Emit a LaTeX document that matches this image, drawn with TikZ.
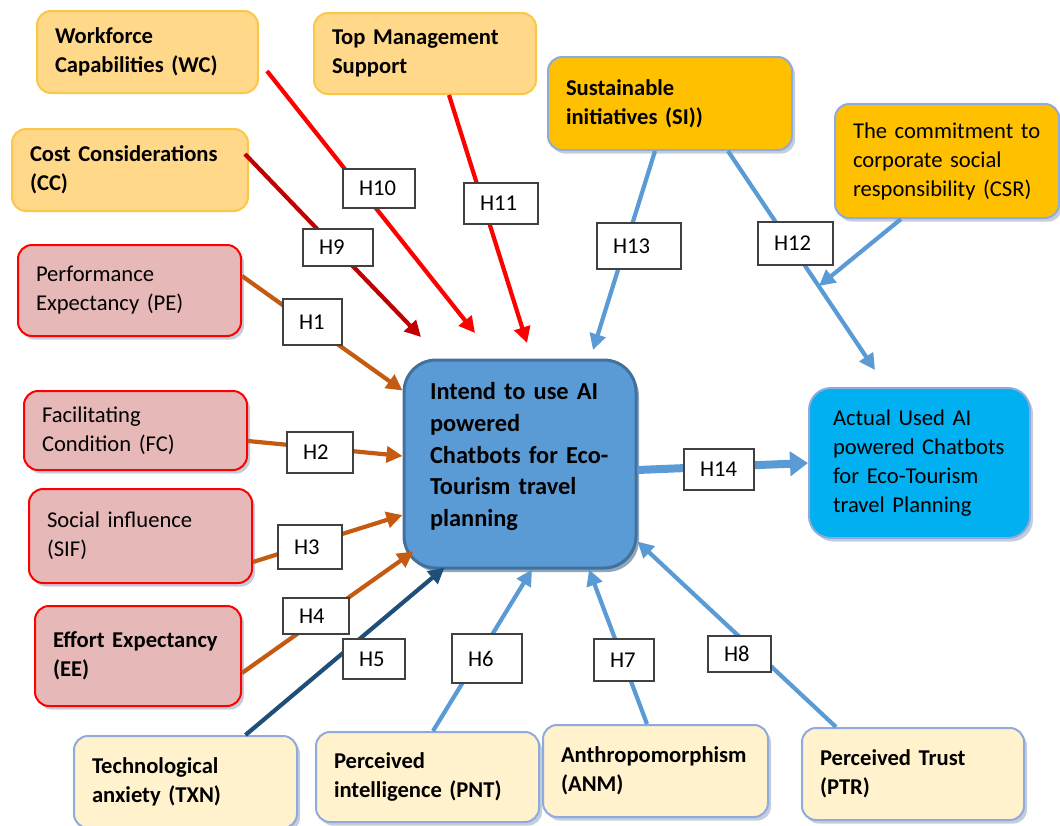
\documentclass[tikz,border=0pt]{standalone}
\usepackage{fontspec}
\setmainfont{Carlito}
\usetikzlibrary{arrows.meta, shadows}

\definecolor{tanfill}{HTML}{FFD889}
\definecolor{tanline}{HTML}{FBC748}
\definecolor{goldfill}{HTML}{FFC000}
\definecolor{paleblue}{HTML}{8FAADC}
\definecolor{pinkfill}{HTML}{E6B8B7}
\definecolor{creamfill}{HTML}{FFF2CC}
\definecolor{midblue}{HTML}{5B9BD5}
\definecolor{deepblue}{HTML}{41719C}
\definecolor{skyfill}{HTML}{00B0F0}
\definecolor{navy}{HTML}{1F4E79}
\definecolor{rust}{HTML}{C55A11}
\definecolor{darkred}{HTML}{C00000}
\definecolor{shadegrey}{HTML}{8C9CBA}
\definecolor{hypline}{HTML}{404040}

\begin{document}
\begin{tikzpicture}[x=0.5pt, y=-0.5pt,
        every node/.style={font=\fontsize{11.3}{14.5}\selectfont},
        boldtext/.style={font=\fontsize{11.3}{14.5}\selectfont\bfseries},
        factor/.style={draw, line width=1pt, rounded corners=7pt, align=left, inner xsep=9pt, inner ysep=0pt},
        boxshadow/.style={drop shadow={shadow xshift=1.5pt, shadow yshift=-1.8pt, fill=shadegrey}},
        tanbox/.style={factor, fill=tanfill, draw=tanline, boldtext},
        goldbox/.style={factor, fill=goldfill, draw=paleblue, boxshadow},
        pinkbox/.style={factor, fill=pinkfill, draw=red, boxshadow},
        creambox/.style={factor, fill=creamfill, draw=paleblue, boxshadow, boldtext},
        hyp/.style={draw=hypline, fill=white, line width=0.6pt, inner xsep=8pt, inner ysep=0pt, align=left},
        link/.style={line width=2.1pt, -{Triangle[length=8pt, width=8pt]}}]
    \useasboundingbox (0, 0) rectangle (1060, 825);
    \clip (0, 0) rectangle (1060, 825);

    \node[tanbox, text width=92.5pt, minimum height=41pt] (wc) at (147.5, 52) {Workforce\\Capabilities (WC)};
    \node[tanbox, text width=93pt, minimum height=40.5pt] (tms) at (425, 53.5) {Top Management\\Support};
    \node[tanbox, text width=100pt, minimum height=41pt] (cc) at (130, 170) {Cost Considerations\\(CC)};
    \node[goldbox, boldtext, text width=104pt, minimum height=46.5pt] (si) at (670, 103.5) {Sustainable\\initiatives (SI))};
    \node[goldbox, text width=94pt, minimum height=57pt] (csr) at (947, 161) {The commitment to\\corporate social\\responsibility (CSR)};
    \node[pinkbox, text width=93.5pt, minimum height=45.5pt] (pe) at (129.5, 290.5) {Performance\\Expectancy (PE)};
    \node[pinkbox, text width=93.5pt, minimum height=39.5pt] (fc) at (135.5, 430.5) {Facilitating\\Condition (FC)};
    \node[pinkbox, text width=93.5pt, minimum height=47pt] (sif) at (140.5, 536) {Social influence\\(SIF)};
    \node[pinkbox, boldtext, text width=85pt, minimum height=50pt] (ee) at (138, 656) {Effort Expectancy\\(EE)};
    \node[factor, fill=midblue, draw=deepblue, line width=1.5pt, rounded corners=16pt, inner xsep=13pt,
        text width=90pt, minimum height=104pt, font=\fontsize{12.2}{15.8}\selectfont\bfseries,
        drop shadow={shadow xshift=1.5pt, shadow yshift=-2pt, fill=navy}] (intent) at (520, 464)
        {Intend to use AI\\powered\\Chatbots for Eco-\\Tourism travel\\planning\\[-6.3pt]\mbox{}};
    \node[factor, fill=skyfill, draw=paleblue, boxshadow, rounded corners=11pt, inner xsep=12pt,
        text width=86.5pt, minimum height=75pt] (actual) at (919.5, 463)
        {Actual Used AI\\powered Chatbots\\for Eco-Tourism\\travel Planning};
    \node[creambox, text width=93.5pt, minimum height=46pt] (txn) at (185.5, 782) {Technological\\anxiety (TXN)};
    \node[creambox, text width=93.5pt, minimum height=45pt] (pnt) at (427.5, 777) {Perceived\\intelligence (PNT)};
    \node[creambox, text width=94.5pt, minimum height=46pt] (anm) at (655.5, 771) {Anthropomorphism\\(ANM)};
    \node[creambox, text width=93pt, minimum height=46pt] (ptr) at (913, 774) {Perceived Trust\\(PTR)};

    \coordinate (wc-tip) at (475, 333);
    \coordinate (cc-tip) at (421, 337);
    \coordinate (tms-tip) at (527, 343);
    \coordinate (si-tip) at (593, 350);
    \coordinate (sia-tip) at (875, 370);
    \coordinate (csr-tip) at (819, 286);

    \draw[link, red] ([xshift=4pt, yshift=-9.5pt]wc.east) -- (wc-tip);
    \draw[link, darkred] ([xshift=-2pt, yshift=8pt]cc.east) -- (cc-tip);
    \draw[link, red] ([xshift=12pt]tms.south) -- (tms-tip);
    \draw[link, rust] ([yshift=7.25pt]pe.east) -- ([yshift=-16pt]intent.north west);
    \draw[link, rust] ([yshift=-5.25pt]fc.east) -- ([yshift=4pt]intent.west);
    \draw[link, rust] ([yshift=-13pt]sif.east) -- ([yshift=-25.5pt]intent.west);
    \draw[link, rust] ([yshift=-8.5pt]ee.east) -- ([xshift=5.5pt, yshift=9pt]intent.south west);
    \draw[link, navy] ([xshift=30pt]txn.north) -- ([xshift=21pt, yshift=1pt]intent.south west);
    \draw[link, midblue] ([xshift=2.75pt]pnt.north) -- ([xshift=6pt]intent.south);
    \draw[link, midblue] ([xshift=-4.25pt]anm.north) -- ([xshift=34.5pt]intent.south);
    \draw[link, midblue] ([xshift=-38.5pt]ptr.north) -- ([yshift=14pt]intent.south east);
    \draw[link, midblue] ([xshift=-7.5pt]si.south) -- (si-tip);
    \draw[link, midblue] ([xshift=29pt]si.south) -- (sia-tip);
    \draw[link, midblue] ([xshift=-23pt]csr.south) -- (csr-tip);
    \draw[midblue, line width=4pt, -{Triangle[length=9pt, width=12pt]}] ([yshift=-3pt]intent.east) -- (actual.west);

    \node[hyp, text width=20pt, minimum height=19.5pt] (h10) at (379, 188.5) {H10};
    \node[hyp, text width=21pt, minimum height=20.5pt] (h11) at (501, 203.5) {H11};
    \node[hyp, text width=19pt, minimum height=18.5pt] (h9) at (338, 247.5) {H9};
    \node[hyp, text width=13.5pt, minimum height=23pt] (h1) at (312.5, 322) {H1};
    \node[hyp, text width=26pt, minimum height=23pt] (h13) at (639, 246) {H13};
    \node[hyp, text width=21.5pt, minimum height=21.5pt] (h12) at (795.5, 243.5) {H12};
    \node[hyp, text width=19pt, minimum height=20.5pt] (h14) at (719, 469.5) {H14};
    \node[hyp, text width=17pt, minimum height=20.5pt] (h2) at (320, 452.5) {H2};
    \node[hyp, text width=16pt, minimum height=22pt] (h3) at (310, 547) {H3};
    \node[hyp, text width=17pt, minimum height=18pt] (h4) at (316, 616) {H4};
    \node[hyp, text width=15pt, minimum height=20pt] (h5) at (374, 659) {H5};
    \node[hyp, text width=19pt, minimum height=24.5pt] (h6) at (487, 658.5) {H6};
    \node[hyp, text width=14pt, minimum height=21pt] (h7) at (624, 660) {H7};
    \node[hyp, text width=15.5pt, minimum height=18pt] (h8) at (739.5, 654) {H8};
\end{tikzpicture}
\end{document}
